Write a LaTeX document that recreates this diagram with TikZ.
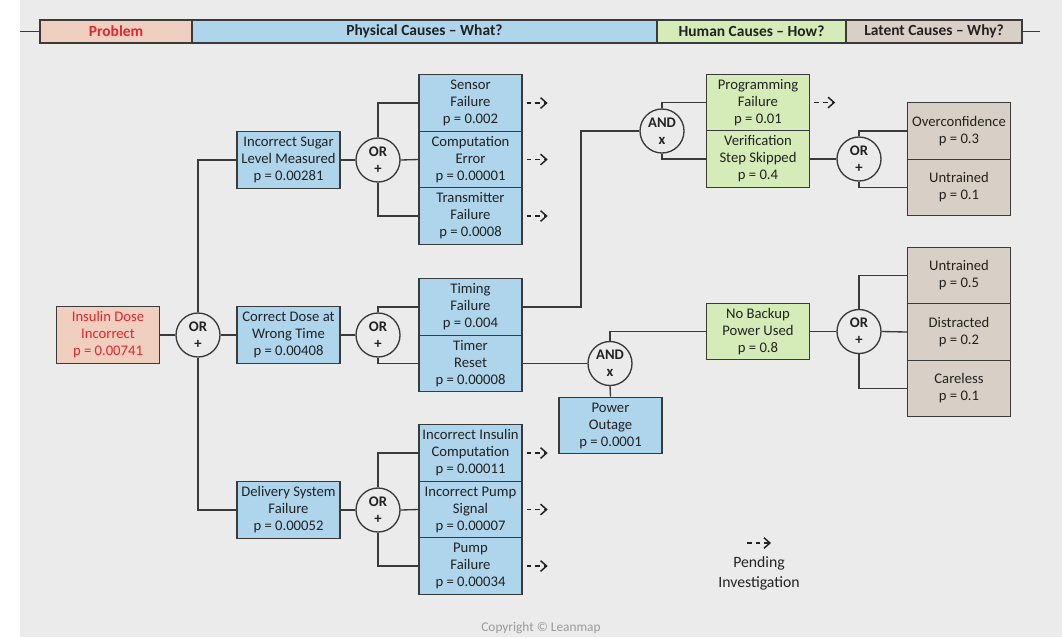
\documentclass[tikz,border=0pt]{standalone}
\usepackage{fontspec}
\setmainfont{Carlito}
\usetikzlibrary{arrows.meta,calc}
\definecolor{bg}{HTML}{EBEBEB}
\definecolor{cblue}{HTML}{AED5EC}
\definecolor{cgreen}{HTML}{D5EBB8}
\definecolor{ctan}{HTML}{D8D0C6}
\definecolor{csalmon}{HTML}{F1CFC0}
\definecolor{cred}{HTML}{E3262B}
\definecolor{txt}{HTML}{222222}
\definecolor{lc}{HTML}{3A3A3A}
\definecolor{copy}{HTML}{9A9A9A}
\newcommand\bxf{\fontsize{11}{12.75}\selectfont}
\newcommand\hdf{\fontsize{11.6}{13}\selectfont}
\tikzset{
  fbox/.style={draw=lc, line width=1pt, minimum width=77.25pt, minimum height=42.4pt,
    inner sep=0pt, align=center, font=\bxf, text=txt},
  bluebox/.style={fbox, fill=cblue},
  greenbox/.style={fbox, fill=cgreen},
  tanbox/.style={fbox, fill=ctan},
  gate/.style={circle, draw=lc, line width=1pt, fill=bg, minimum size=33pt, inner sep=0pt,
    align=center, font=\bxf\bfseries, text=txt},
  hbox/.style={draw=lc, line width=1pt, minimum height=17.25pt, inner sep=0pt,
    font=\hdf\bfseries, text=txt},
  wire/.style={draw=lc, line width=1pt},
  pend/.style={draw=txt, line width=1.1pt, dash pattern=on 3.5pt off 3pt,
    -{Straight Barb[length=4.5pt,width=8pt,line width=1.1pt]}}
}
\begin{document}
\begin{tikzpicture}[x=0.75pt,y=-0.75pt]
\useasboundingbox (0,0) rectangle (1062,637);
\fill[white] (0,0) rectangle (1062,637);
\fill[bg] (20,0) rectangle (1062,637);

% header
\node[hbox, fill=csalmon, minimum width=114pt, text=cred] (h1) at (116,31.5) {Problem};
\node[hbox, fill=cblue, minimum width=348.75pt] (h2) at (424.5,31.5) {Physical Causes – What?};
\node[hbox, fill=cgreen, minimum width=141.75pt] (h3) at (751.5,31.5) {Human Causes – How?};
\node[hbox, fill=ctan, minimum width=132pt] (h4) at (934,31.5) {Latent Causes – Why?};
\coordinate (hl) at (20,31.5);
\coordinate (hr) at (1040,31.5);
\draw[wire] (hl) -- (h1.west);
\draw[wire] (h4.east) -- (hr);

% level 1
\node[fbox, fill=csalmon, text=cred] (insulin) at (108,335) {Insulin Dose\\Incorrect\\p = 0.00741};
\node[gate] (or1) at (198,335) {OR\\+};

% level 2
\node[bluebox] (sugar) at (288.5,160) {Incorrect Sugar\\Level Measured\\p = 0.00281};
\node[bluebox] (correct) at (288.5,335) {Correct Dose at\\Wrong Time\\p = 0.00408};
\node[bluebox] (delivery) at (288.5,510) {Delivery System\\Failure\\p = 0.00052};
\node[gate] (or2) at (378,160) {OR\\+};
\node[gate] (or3) at (378,335) {OR\\+};
\node[gate] (or6) at (378,510) {OR\\+};

% level 3
\node[bluebox] (sensor) at (470.5,103) {Sensor\\Failure\\p = 0.002};
\node[bluebox] (comp) at (470.5,159.5) {Computation\\Error\\p = 0.00001};
\node[bluebox] (trans) at (470.5,216) {Transmitter\\Failure\\p = 0.0008};
\node[bluebox] (timing) at (470.5,307) {Timing\\Failure\\p = 0.004};
\node[bluebox] (reset) at (470.5,363.5) {Timer\\Reset\\p = 0.00008};
\node[bluebox] (icomp) at (470.5,453) {Incorrect Insulin\\Computation\\p = 0.00011};
\node[bluebox] (psig) at (470.5,509.5) {Incorrect Pump\\Signal\\p = 0.00007};
\node[bluebox] (pfail) at (470.5,566) {Pump\\Failure\\p = 0.00034};

% human / latent
\node[gate] (and1) at (662,131) {AND\\x};
\node[greenbox] (prog) at (758,102.5) {Programming\\Failure\\p = 0.01};
\node[greenbox] (verif) at (758,159) {Verification\\Step Skipped\\p = 0.4};
\node[gate] (or4) at (859,159) {OR\\+};
\node[tanbox] (overc) at (959,131) {Overconfidence\\p = 0.3};
\node[tanbox] (untr1) at (959,187.5) {Untrained\\p = 0.1};

\node[gate] (and2) at (610,363.5) {AND\\x};
\node[bluebox] (power) at (610.5,425.5) {Power\\Outage\\p = 0.0001};
\node[greenbox] (nobk) at (758,331.5) {No Backup\\Power Used\\p = 0.8};
\node[gate] (or5) at (859,331.5) {OR\\+};
\node[tanbox] (untr2) at (959,275.5) {Untrained\\p = 0.5};
\node[tanbox] (distr) at (959,332) {Distracted\\p = 0.2};
\node[tanbox] (care) at (959,388.5) {Careless\\p = 0.1};

% wires
\draw[wire] (insulin.east) -- (or1.west);
\draw[wire] (or1.north) |- (sugar.west);
\draw[wire] (or1.east) -- (correct.west);
\draw[wire] (or1.south) |- (delivery.west);

\draw[wire] (sugar.east) -- (or2.west);
\draw[wire] (or2.north) |- (sensor.west);
\draw[wire] (or2.east) -- (comp.west);
\draw[wire] (or2.south) |- (trans.west);

\draw[wire] (correct.east) -- (or3.west);
\draw[wire] (or3.north) |- (timing.west);
\draw[wire] (or3.south) |- (reset.west);

\draw[wire] (delivery.east) -- (or6.west);
\draw[wire] (or6.north) |- (icomp.west);
\draw[wire] (or6.east) -- (psig.west);
\draw[wire] (or6.south) |- (pfail.west);

\coordinate (j1) at (581,307);
\draw[wire] (timing.east) -- (j1) |- (and1.west);
\draw[wire] (and1.north) |- (prog.west);
\draw[wire] (and1.south) |- (verif.west);
\draw[wire] (verif.east) -- (or4.west);
\draw[wire] (or4.north) |- (overc.west);
\draw[wire] (or4.south) |- (untr1.west);

\draw[wire] (reset.east) -- (and2.west);
\draw[wire] (and2.south) -- (power.north);
\draw[wire] (and2.north) |- (nobk.west);
\draw[wire] (nobk.east) -- (or5.west);
\draw[wire] (or5.north) |- (untr2.west);
\draw[wire] (or5.east) -- (distr.west);
\draw[wire] (or5.south) |- (care.west);

% pending arrows
\foreach \n in {sensor,comp,trans,prog,icomp,psig,pfail}{
  \draw[pend] (\n.east) ++(4,0) -- ++(21,0);
}

% legend
\coordinate (lg1) at (747,543);
\coordinate (lg2) at (771,543);
\draw[pend] (lg1) -- (lg2);
\node[align=center, font=\fontsize{11.8}{15}\selectfont, text=txt] (legend) at (759,573) {Pending\\Investigation};

\node[font=\fontsize{10}{12}\selectfont, text=copy] (copyr) at (541,628) {Copyright © Leanmap};
\end{tikzpicture}
\end{document}
